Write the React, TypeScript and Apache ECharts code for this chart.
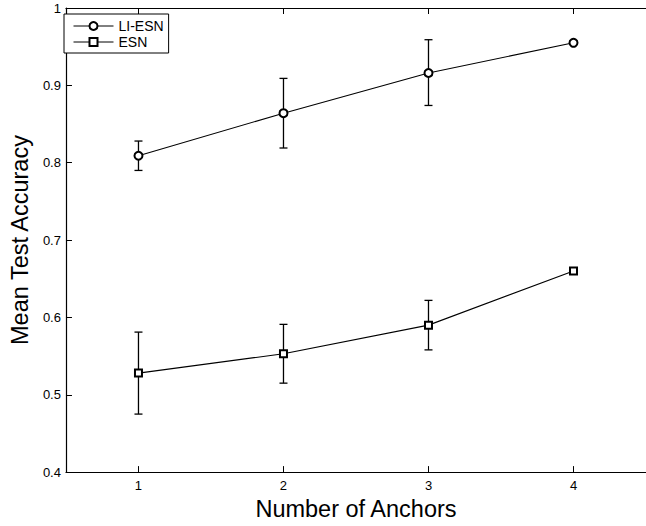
import React, { useEffect, useRef } from "react";
import * as echarts from "echarts";

const categories = ["1", "2", "3", "4"];
const liEsnMean = [0.809, 0.864, 0.916, 0.955];
const liEsnLow = [0.79, 0.819, 0.874, 0.955];
const liEsnHigh = [0.828, 0.909, 0.959, 0.955];
const esnMean = [0.528, 0.553, 0.59, 0.66];
const esnLow = [0.475, 0.515, 0.558, 0.66];
const esnHigh = [0.581, 0.591, 0.622, 0.66];

const FONT = "'Liberation Sans', Arial, Helvetica, sans-serif";

function errData(low: number[], high: number[]) {
  return low.map((l, i) => [i, l, high[i]]);
}

function renderErr(params: any, api: any) {
  const x = api.value(0);
  const lo = api.coord([x, api.value(1)]);
  const hi = api.coord([x, api.value(2)]);
  const hw = 4;
  const style = { stroke: "#000", lineWidth: 1.3 };
  return {
    type: "group",
    children: [
      { type: "line", shape: { x1: lo[0], y1: lo[1], x2: hi[0], y2: hi[1] }, style },
      { type: "line", shape: { x1: lo[0] - hw, y1: lo[1], x2: lo[0] + hw, y2: lo[1] }, style },
      { type: "line", shape: { x1: hi[0] - hw, y1: hi[1], x2: hi[0] + hw, y2: hi[1] }, style },
    ],
  };
}

export default function App() {
  const ref = useRef<HTMLDivElement>(null);
  useEffect(() => {
    if (!ref.current) return;
    const chart = echarts.init(ref.current, null, { renderer: "svg" });
    const axisLine = { show: true, lineStyle: { color: "#000", width: 1.2 } };
    chart.setOption({
      animation: false,
      backgroundColor: "#fff",
      textStyle: { fontFamily: FONT },
      grid: { left: 58, top: 8, right: -7, bottom: 49 },
      legend: {
        data: ["LI-ESN", "ESN"],
        orient: "vertical",
        left: 64,
        top: 14,
        borderColor: "#000",
        borderWidth: 1,
        backgroundColor: "#fff",
        padding: [5, 5, 4, 9],
        itemWidth: 40,
        itemHeight: 10,
        itemGap: 2,
        lineStyle: { width: 1 },
        itemStyle: { borderWidth: 1 },
        textStyle: { fontSize: 14, lineHeight: 14, color: "#000", fontFamily: FONT },
      },
      xAxis: [
        {
          type: "category",
          data: categories,
          boundaryGap: true,
          axisLine,
          axisTick: { show: true, inside: true, length: 6, alignWithLabel: true, lineStyle: { color: "#000" } },
          axisLabel: { fontSize: 13, color: "#000", margin: 7, fontFamily: FONT },
          splitLine: { show: false },
          name: "Number of Anchors",
          nameLocation: "middle",
          nameGap: 21,
          nameTextStyle: { fontSize: 23.5, color: "#000", fontFamily: FONT },
        },
        {
          type: "category",
          data: categories,
          position: "top",
          boundaryGap: true,
          axisLine,
          axisTick: { show: true, inside: true, length: 6, alignWithLabel: true, lineStyle: { color: "#000" } },
          axisLabel: { show: false },
          splitLine: { show: false },
        },
      ],
      yAxis: {
        type: "value",
        min: 0.4,
        max: 1,
        interval: 0.1,
        axisLine,
        axisTick: { show: true, inside: true, length: 6, lineStyle: { color: "#000" } },
        axisLabel: { fontSize: 13, color: "#000", margin: 5, fontFamily: FONT },
        splitLine: { show: false },
        name: "Mean Test Accuracy",
        nameLocation: "middle",
        nameGap: 27,
        nameTextStyle: { fontSize: 23.5, color: "#000", fontFamily: FONT },
      },
      series: [
        {
          name: "LI-ESN",
          type: "line",
          data: liEsnMean.map((v, i) => [i, v]),
          symbol: "emptyCircle",
          symbolSize: 8,
          color: "#000",
          itemStyle: { color: "#000", borderColor: "#000", borderWidth: 1 },
          lineStyle: { color: "#000", width: 1.1 },
          z: 3,
        },
        {
          name: "ESN",
          type: "line",
          data: esnMean.map((v, i) => [i, v]),
          symbol: "emptyRect",
          symbolSize: 7,
          color: "#000",
          itemStyle: { color: "#000", borderColor: "#000", borderWidth: 1 },
          lineStyle: { color: "#000", width: 1.1 },
          z: 3,
        },
        {
          name: "LI-ESN err",
          type: "custom",
          renderItem: renderErr,
          data: errData(liEsnLow, liEsnHigh),
          encode: { x: 0, y: [1, 2] },
          z: 2,
        },
        {
          name: "ESN err",
          type: "custom",
          renderItem: renderErr,
          data: errData(esnLow, esnHigh),
          encode: { x: 0, y: [1, 2] },
          z: 2,
        },
      ],
    });
    return () => chart.dispose();
  }, []);
  return (
    <div
      ref={ref}
      style={{ position: "absolute", left: 0, top: 0, width: 646, height: 526, background: "#fff" }}
    />
  );
}
